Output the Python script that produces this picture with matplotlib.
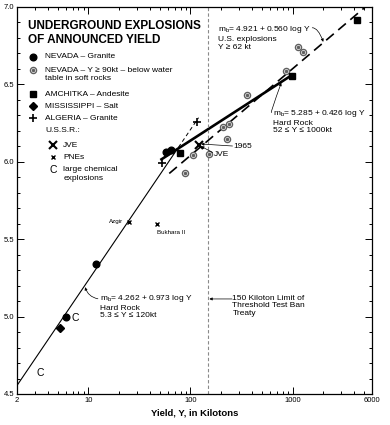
import numpy as np
import matplotlib
matplotlib.use('Agg')
import matplotlib.pyplot as plt
from matplotlib.ticker import FixedLocator, FixedFormatter, NullFormatter

plt.rcParams['font.family'] = ['Liberation Sans', 'DejaVu Sans']
plt.rcParams['mathtext.fontset'] = 'custom'
plt.rcParams['mathtext.rm'] = 'Liberation Sans'
plt.rcParams['mathtext.it'] = 'Liberation Sans:italic'

# ---------------- data ----------------
nevada_granite_Y = [6.0, 11.9, 57, 64]
nevada_granite_mb = [5.00, 5.34, 6.065, 6.075]

nevada_soft_Y = [89, 107, 153, 208, 228, 240, 360, 866, 1140, 1280]
nevada_soft_mb = [5.93, 6.045, 6.05, 6.225, 6.147, 6.244, 6.43, 6.587, 6.742, 6.71]

amchitka_Y = [79, 990, 4300]
amchitka_mb = [6.057, 6.554, 6.916]

mississippi_Y = [5.3]
mississippi_mb = [4.925]

algeria_Y = [53, 117]
algeria_mb = [5.99, 6.255]

jve_Y = [120]
jve_mb = [6.11]

pne_Y = [25, 47]
pne_mb = [5.61, 5.60]
pne_names = ['Azgir', 'Bukhara II']

chem_Y = [3.36, 7.4]
chem_mb = [4.636, 4.99]

# regression lines: (intercept, slope, Ymin, Ymax)
fit_hard_low = (4.262, 0.973, 2, 120)
fit_hard_high = (5.285, 0.426, 52, 1000)
fit_us = (4.921, 0.560, 62, 6000)
ttbt_limit = 150

x_ticks = [2, 10, 100, 1000, 6000]
x_ticklabels = ['2', '10', '100', '1000', '6000']
y_ticks = [4.5, 5.0, 5.5, 6.0, 6.5, 7.0]

# ---------------- figure ----------------
fig = plt.figure(figsize=(3.9, 4.25), dpi=100)
ax = fig.add_axes([17/390, 1-394/425, 355/390, 387/425])
ax.set_xscale('log')
ax.set_xlim(2, 6000)
ax.set_ylim(4.5, 7.0)

def line(fit, y0=None, y1=None):
    a, b, lo, hi = fit
    lo = lo if y0 is None else y0
    hi = hi if y1 is None else y1
    Y = np.logspace(np.log10(lo), np.log10(hi), 50)
    return Y, a + b*np.log10(Y)

Y, m = line(fit_hard_low, None, 70)
ax.plot(Y, m, color='black', lw=0.8)
Y, m = line(fit_hard_low, 70, None)
ax.plot(Y, m, color='black', lw=0.7, ls=(0, (4, 3)))
Y, m = line(fit_hard_high)
ax.plot(Y, m, color='black', lw=1.9)
Y, m = line(fit_us)
ax.plot(Y, m, color='black', lw=1.2, ls=(0, (6, 3.5)))
ax.axvline(ttbt_limit, color='#8a8a8a', lw=0.8, ls=(0, (3, 2)))

# markers
ax.plot(nevada_granite_Y, nevada_granite_mb, 'o', color='black', ms=4.8, ls='none')
ax.plot(nevada_soft_Y, nevada_soft_mb, 'o', mfc='white', mec='#606060', mew=1.0, ms=4.4, ls='none')
ax.plot(nevada_soft_Y, nevada_soft_mb, 'o', color='#606060', ms=1.5, ls='none')
ax.plot(amchitka_Y, amchitka_mb, 's', color='black', ms=4.8, ls='none')
ax.plot(mississippi_Y, mississippi_mb, 'D', color='black', ms=4.2, ls='none')
ax.plot(algeria_Y, algeria_mb, '+', color='black', ms=5.5, mew=1.2, ls='none')
ax.plot(jve_Y, jve_mb, 'x', color='black', ms=5.5, mew=1.5, ls='none')
ax.plot(pne_Y, pne_mb, 'x', color='black', ms=3, mew=1.0, ls='none')
for yy, mm in zip(chem_Y, chem_mb):
    ax.text(yy, mm, 'C', fontsize=7.5, ha='center', va='center')

# PNE names
ax.annotate(pne_names[0], (pne_Y[0], pne_mb[0]), xytext=(-4, 0.5), textcoords='offset points',
            fontsize=4.5, ha='right', va='center')
ax.annotate(pne_names[1], (pne_Y[1], pne_mb[1]), xytext=(0, -6), textcoords='offset points',
            fontsize=4.5, ha='left', va='center')

# annotations
fs = 6
arrow = dict(arrowstyle='-|>', lw=0.5, color='black', mutation_scale=4, shrinkA=0, shrinkB=0)

ax.text(13.0, 5.15, 'm$_\\mathrm{b}$= 4.262 + 0.973 log Y\nHard Rock\n5.3 ≤ Y ≤ 120kt',
        fontsize=fs, va='top', ha='left', linespacing=1.1)
ax.annotate('', xy=(9.3, 5.19), xytext=(12.4, 5.115),
            arrowprops=dict(arrow, connectionstyle='arc3,rad=-0.3'))

ax.text(187, 6.89, 'm$_\\mathrm{b}$= 4.921 + 0.560 log Y\nU.S. explosions\nY ≥ 62 kt',
        fontsize=fs, va='top', ha='left', linespacing=1.2)
ax.annotate('', xy=(2000, 6.775), xytext=(1560, 6.866),
            arrowprops=dict(arrow, connectionstyle='angle3,angleA=0,angleB=-70'))

ax.text(650, 6.345, 'm$_\\mathrm{b}$= 5.285 + 0.426 log Y\nHard Rock\n52 ≤ Y ≤ 1000kt',
        fontsize=fs, va='top', ha='left', linespacing=1.1)
ax.annotate('', xy=(775, 6.51), xytext=(620, 6.318),
            arrowprops=dict(arrow, connectionstyle='angle3,angleA=180,angleB=70'))

ax.text(258, 5.14, '150 Kiloton Limit of\nThreshold Test Ban\nTreaty',
        fontsize=fs, va='top', ha='left', linespacing=1.1)
ax.annotate('', xy=(153, 5.114), xytext=(255, 5.114), arrowprops=arrow)

ax.text(262, 6.102, '1965', fontsize=fs, va='center', ha='left')
ax.annotate('', xy=(127, 6.115), xytext=(258, 6.102), arrowprops=arrow)
ax.text(168, 6.044, 'JVE', fontsize=fs, va='center', ha='left')
ax.annotate('', xy=(127, 6.10), xytext=(165, 6.06), arrowprops=arrow)

# title
ax.text(0.031, 0.951, 'UNDERGROUND EXPLOSIONS', transform=ax.transAxes, fontsize=8.5,
        fontweight='bold', va='center', ha='left')
ax.text(0.031, 0.915, 'OF ANNOUNCED YIELD', transform=ax.transAxes, fontsize=8.5,
        fontweight='bold', va='center', ha='left')

# custom legend
T = ax.transAxes
mx, tx = 0.045, 0.079
ax.plot([mx], [0.871], 'o', color='black', ms=4.8, transform=T, clip_on=False)
ax.text(tx, 0.871, 'NEVADA – Granite', fontsize=fs, va='center', transform=T)
ax.plot([mx], [0.837], 'o', mfc='white', mec='#606060', mew=1.0, ms=4.4, transform=T)
ax.plot([mx], [0.837], 'o', color='#606060', ms=1.5, transform=T)
ax.text(tx, 0.837, 'NEVADA – Y ≥ 90kt – below water', fontsize=fs, va='center', transform=T)
ax.text(tx, 0.814, 'table in soft rocks', fontsize=fs, va='center', transform=T)
ax.plot([mx], [0.775], 's', color='black', ms=4.8, transform=T)
ax.text(tx, 0.775, 'AMCHITKA – Andesite', fontsize=fs, va='center', transform=T)
ax.plot([mx], [0.744], 'D', color='black', ms=4.2, transform=T)
ax.text(tx, 0.744, 'MISSISSIPPI – Salt', fontsize=fs, va='center', transform=T)
ax.plot([mx], [0.713], '+', color='black', ms=5.5, mew=1.2, transform=T)
ax.text(tx, 0.713, 'ALGERIA – Granite', fontsize=fs, va='center', transform=T)
ax.text(tx, 0.680, 'U.S.S.R.:', fontsize=fs, va='center', transform=T)
mx2, tx2 = 0.101, 0.130
ax.plot([mx2], [0.643], 'x', color='black', ms=5.5, mew=1.5, transform=T)
ax.text(tx2, 0.643, 'JVE', fontsize=fs, va='center', transform=T)
ax.plot([mx2], [0.612], 'x', color='black', ms=3, mew=1.0, transform=T)
ax.text(tx2, 0.612, 'PNEs', fontsize=fs, va='center', transform=T)
ax.text(mx2, 0.579, 'C', fontsize=7.5, ha='center', va='center', transform=T)
ax.text(tx2, 0.579, 'large chemical', fontsize=fs, va='center', transform=T)
ax.text(tx2, 0.556, 'explosions', fontsize=fs, va='center', transform=T)

# axes styling
ax.xaxis.set_major_locator(FixedLocator(x_ticks))
ax.xaxis.set_major_formatter(FixedFormatter(x_ticklabels))
minor = [v*d for d in (1, 10, 100, 1000) for v in range(2, 10) if 2 < v*d < 6000 and v*d not in x_ticks]
ax.xaxis.set_minor_locator(FixedLocator(minor))
ax.xaxis.set_minor_formatter(NullFormatter())
ax.yaxis.set_major_locator(FixedLocator(y_ticks))
ax.yaxis.set_major_formatter(FixedFormatter(['%.1f' % v for v in y_ticks]))
ax.yaxis.set_minor_locator(FixedLocator(np.arange(4.6, 7.0, 0.1)))
ax.tick_params(which='both', direction='in', top=True, right=True, labelsize=5.5, width=0.7)
ax.tick_params(which='major', length=5, pad=2)
ax.tick_params(which='minor', length=2.5)
for s in ax.spines.values():
    s.set_linewidth(0.9)

ax.set_xlabel('Yield, Y, in Kilotons', fontsize=6.8, fontweight='bold')
ax.xaxis.set_label_coords(0.5, -0.038)

fig.savefig('out.png', dpi=100)
